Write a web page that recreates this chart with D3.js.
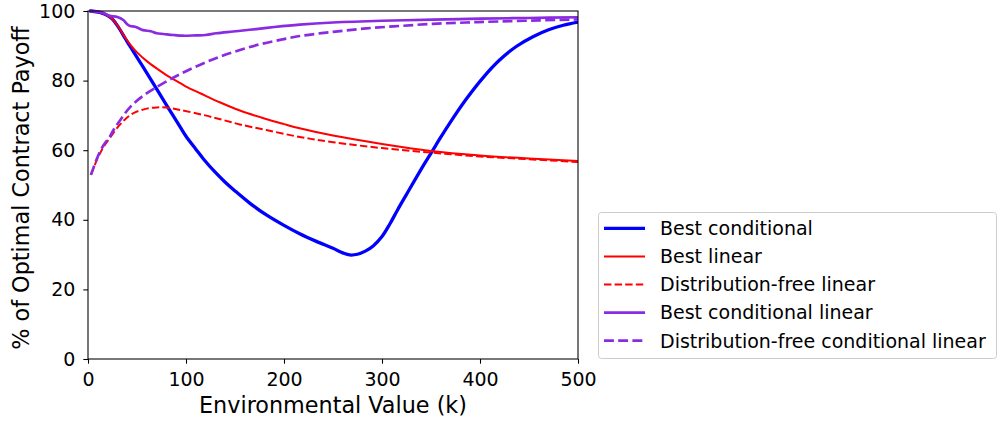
<!DOCTYPE html>
<html>
<head>
<meta charset="utf-8">
<script src="https://cdn.jsdelivr.net/npm/d3@7"></script>
<style>
  body { margin: 0; background: #fff; }
  svg { font-family: "DejaVu Sans", sans-serif; }
</style>
</head>
<body>
<svg id="chart" width="1001" height="421"></svg>
<script>
// values
const bestCondK   = [3, 12, 18, 24, 30, 38, 43, 56, 70, 82, 94, 100, 110, 118, 130, 140, 150, 165, 182, 200, 216, 233, 250, 260, 267, 275, 283, 291, 300, 308, 316, 325, 342, 351, 359, 368, 386, 403, 420, 437, 454, 470, 485, 500];
const bestCondV   = [100, 99.6, 99, 97.9, 95.8, 92.1, 89.8, 84, 77.6, 72.1, 66.7, 64, 60.3, 57.4, 53.6, 50.8, 48.3, 44.8, 41.4, 38.4, 36, 33.8, 31.8, 30.5, 29.9, 30.1, 31, 32.5, 35.2, 38.8, 42.9, 47.3, 55.5, 59.6, 63.3, 67.3, 74.7, 80.8, 85.9, 89.8, 92.6, 94.6, 95.9, 96.8];

const bestLinK    = [3, 12, 18, 24, 30, 38, 43, 50, 60, 70, 80, 94, 100, 115, 135, 155, 180, 200, 216, 250, 300, 350, 400, 450, 500];
const bestLinV    = [100, 99.6, 99, 97.9, 95.9, 92.3, 90.4, 88.1, 85.6, 83.5, 81.6, 79.3, 78.3, 76.3, 73.7, 71.4, 69.1, 67.5, 66.3, 64.2, 61.8, 59.8, 58.5, 57.6, 56.9];

const dfLinK      = [3, 10, 16, 22, 30, 38, 46, 58, 70, 80, 95, 118, 135, 155, 182, 216, 250, 300, 350, 400, 450, 500];
const dfLinV      = [52.9, 57.8, 61, 63.4, 66.5, 68.9, 70.6, 71.8, 72.3, 72.3, 71.5, 70.1, 68.9, 67.4, 65.8, 63.8, 62.3, 60.6, 59.3, 58.2, 57.4, 56.6];

const bestCondLinK = [3, 14, 22, 30, 36, 40, 43, 48, 56, 64, 70, 77, 87, 97, 110, 120, 131, 148, 165, 190, 216, 250, 300, 352, 400, 450, 500];
const bestCondLinV = [100, 99.6, 98.6, 98.3, 97.4, 96.2, 95.7, 95.5, 94.5, 94.2, 93.6, 93.4, 93.1, 92.9, 93, 93.1, 93.6, 94.1, 94.6, 95.4, 96.1, 96.7, 97.2, 97.5, 97.8, 98, 98.2];

const dfCondLinK  = [3, 10, 16, 22, 26, 33, 43, 56, 67, 84, 100, 118, 135, 155, 175, 196, 216, 250, 284, 318, 352, 386, 420, 460, 500];
const dfCondLinV  = [52.9, 58.2, 61.5, 63.8, 65.8, 68.7, 72.4, 75.6, 77.6, 80.4, 82.7, 85, 86.9, 88.8, 90.4, 91.7, 92.8, 94, 95, 95.7, 96.3, 96.7, 97, 97.3, 97.6];

const xTicks = [0, 100, 200, 300, 400, 500];
const yTicks = [0, 20, 40, 60, 80, 100];

const series = [
  { name: "Best conditional", k: bestCondK, v: bestCondV, color: "#0000ff", width: 3.3, dash: null },
  { name: "Best linear", k: bestLinK, v: bestLinV, color: "#ff0000", width: 2, dash: null },
  { name: "Distribution-free linear", k: dfLinK, v: dfLinV, color: "#ff0000", width: 2, dash: "7.4,3.2" },
  { name: "Best conditional linear", k: bestCondLinK, v: bestCondLinV, color: "#8a2be2", width: 2.67, dash: null },
  { name: "Distribution-free conditional linear", k: dfCondLinK, v: dfCondLinV, color: "#8a2be2", width: 2.67, dash: "9.9,4.3" }
];

const svg = d3.select("#chart");
const mLeft = 88, mRight = 578, mTop = 11, mBottom = 359;

const x = d3.scaleLinear().domain([0, 500]).range([mLeft, mRight]);
const y = d3.scaleLinear().domain([0, 100]).range([mBottom, mTop]);

svg.append("defs").append("clipPath").attr("id", "clip")
  .append("rect")
  .attr("x", mLeft).attr("y", mTop - 2)
  .attr("width", mRight - mLeft).attr("height", mBottom - mTop + 2);

const line = d3.line()
  .x(d => x(d[0]))
  .y(d => y(d[1]))
  .curve(d3.curveCatmullRom.alpha(0.5));

const g = svg.append("g").attr("clip-path", "url(#clip)");
series.forEach(s => {
  g.append("path")
    .datum(d3.zip(s.k, s.v))
    .attr("fill", "none")
    .attr("stroke", s.color)
    .attr("stroke-width", s.width)
    .attr("stroke-dasharray", s.dash)
    .attr("stroke-linecap", s.dash ? "butt" : "square")
    .attr("d", line);
});

// axes
const xAxis = svg.append("g")
  .attr("transform", `translate(0,${mBottom})`)
  .call(d3.axisBottom(x).tickValues(xTicks).tickSize(4.7).tickPadding(8.5));
const yAxis = svg.append("g")
  .attr("transform", `translate(${mLeft},0)`)
  .call(d3.axisLeft(y).tickValues(yTicks).tickSize(4.7).tickPadding(8));

[xAxis, yAxis].forEach(a => {
  a.select(".domain").remove();
  a.selectAll("line").attr("stroke", "#000").attr("stroke-width", 1.07);
  a.selectAll("text").attr("font-size", 19).attr("fill", "#000")
    .attr("font-family", "DejaVu Sans");
});

svg.append("rect")
  .attr("x", mLeft).attr("y", mTop)
  .attr("width", mRight - mLeft).attr("height", mBottom - mTop)
  .attr("fill", "none").attr("stroke", "#000").attr("stroke-width", 1.07);

svg.append("text")
  .attr("x", (mLeft + mRight) / 2).attr("y", 412.5)
  .attr("text-anchor", "middle")
  .attr("font-size", 22.3)
  .text("Environmental Value (k)");

svg.append("text")
  .attr("transform", `translate(29,188) rotate(-90)`)
  .attr("text-anchor", "middle")
  .attr("font-size", 22.3)
  .text("% of Optimal Contract Payoff");

// legend
const lg = svg.append("g");
lg.append("rect")
  .attr("x", 598.5).attr("y", 212.5)
  .attr("width", 398).attr("height", 146)
  .attr("rx", 3)
  .attr("fill", "#fff").attr("stroke", "#cccccc").attr("stroke-width", 1);

series.forEach((s, i) => {
  const yy = 228.3 + i * 28.1;
  lg.append("line")
    .attr("x1", 604).attr("x2", 645)
    .attr("y1", yy).attr("y2", yy)
    .attr("stroke", s.color)
    .attr("stroke-width", s.width)
    .attr("stroke-dasharray", s.dash);
  lg.append("text")
    .attr("x", 660).attr("y", yy + 6.8)
    .attr("font-size", 19)
    .text(s.name);
});
</script>
</body>
</html>
